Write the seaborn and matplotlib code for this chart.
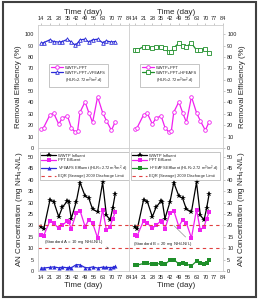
import numpy as np
import pandas as pd
import matplotlib
matplotlib.use("Agg")
import matplotlib.pyplot as plt
import seaborn as sns
from matplotlib.patches import Rectangle

sns.set_style("white")
plt.rcParams['font.family'] = ['Liberation Sans', 'DejaVu Sans']
plt.rcParams['mathtext.fontset'] = 'custom'
plt.rcParams['mathtext.rm'] = 'Liberation Sans'
plt.rcParams['mathtext.it'] = 'Liberation Sans:italic'

# removal efficiency (%)
eff_days = [14, 16, 21, 24, 28, 31, 35, 38, 41, 43, 45, 49, 52, 55, 59, 63, 66, 70, 73]
eff_ppt = [16.5, 18, 29, 30.5, 21, 26.5, 28, 18, 14, 14.5, 31.5, 40.5, 31, 22.5, 45, 31, 24, 15.5, 23]
eff_vf = [92, 92.5, 95, 93.5, 93, 93.5, 95.5, 93, 90.5, 92, 95, 95.5, 93, 95, 95.5, 92.5, 94, 93, 93.5]
eff_hf = [86, 86, 89, 89, 87.5, 89, 89, 87.5, 84, 84.5, 88, 92, 90, 89, 92, 86, 86, 87, 83]

# AN concentration (mg NH4-N/L)
conc_days = [14, 16, 21, 24, 28, 31, 35, 36, 38, 42, 45, 49, 52, 55, 59, 63, 66, 69, 71, 73]
conc_inf = [19.3, 18.3, 31.1, 30.5, 23.8, 28, 30.8, 30.1, 23, 30.4, 38.8, 32.9, 31.9, 27.1, 26, 38.9, 24.5, 22.4, 27.5, 33.8]
conc_ppt = [16, 15.5, 22, 21, 18.7, 20.2, 22, 21.5, 18.5, 25.5, 26.5, 19.5, 22.5, 21, 14.5, 27, 18, 19.5, 23, 25.8]
conc_vf = [1.3, 1.3, 1.6, 1.8, 1.4, 1.7, 1.4, 1.6, 1.4, 2.8, 2.7, 1.5, 1.4, 1.8, 1.3, 1.7, 1.6, 1.5, 1.6, 2.0]
conc_hf = [2.7, 2.6, 3.3, 3.3, 3.0, 3.1, 3.3, 3.2, 2.9, 4.8, 5.0, 3.1, 3.5, 3.0, 2.3, 4.3, 3.3, 3.2, 3.6, 4.9]

std_a = 10
std_b = 20
x_ticks = [14, 21, 28, 35, 42, 49, 56, 63, 70, 77, 84]

MAG = '#f020f0'
BLUE = '#2a2ad8'
GREEN = '#1f8f2a'
RED = '#e04040'

W, H = 259, 299
fig = plt.figure(figsize=(W / 100, H / 100), dpi=100)


def add_ax(x0, y_top, w, h):
    return fig.add_axes([x0 / W, 1 - (y_top + h) / H, w / W, h / H])


ax_tl = add_ax(38, 25, 91, 123)
ax_tr = add_ax(129, 25, 94, 123)
ax_bl = add_ax(38, 148, 91, 123)
ax_br = add_ax(129, 148, 94, 123)


def style(ax, right, top):
    ax.set_xlim(9.5 if right else 11.5, 84)
    ax.set_xticks(x_ticks)
    for s in ax.spines.values():
        s.set_color('#cccccc')
        s.set_linewidth(0.6)
    ax.tick_params(labelsize=4, length=1.5, width=0.4, color='#999999', pad=1.5, labelcolor='#222222')
    if top:
        ax.xaxis.tick_top()
        ax.xaxis.set_label_position('top')
    if right:
        ax.yaxis.tick_right()
        ax.yaxis.set_label_position('right')
    ax.set_xlabel('Time (day)', fontsize=5.8, labelpad=1.5)


def leg(ax, hl, **kw):
    lg = ax.legend(fontsize=2.9, frameon=True, fancybox=False, handlelength=hl,
                   borderpad=0.45, labelspacing=0.2, handletextpad=0.5, **kw)
    lg.get_frame().set_edgecolor('#999999')
    lg.get_frame().set_linewidth(0.5)
    return lg


# top panels: removal efficiency
for ax, right, vals, col, mk, name in [
        (ax_tl, False, eff_vf, BLUE, '^', 'WWTP+PPT+VFEAFS'),
        (ax_tr, True, eff_hf, GREEN, 's', 'WWTP+PPT+HFEAFS')]:
    sns.lineplot(x=eff_days, y=eff_ppt, ax=ax, color=MAG, marker='o', markersize=2.6,
                 markerfacecolor='white', markeredgecolor=MAG, markeredgewidth=0.6,
                 lw=0.9, label='WWTP+PPT')
    sns.lineplot(x=eff_days, y=vals, ax=ax, color=col, marker=mk, markersize=2.6,
                 markerfacecolor='white', markeredgecolor=col, markeredgewidth=0.6,
                 lw=0.9, label=name)
    ax.plot([], [], ls='none', label='(HLR=2.72 m$^3$/m$^2$.d)')
    ax.set_ylim(0, 108)
    ax.set_yticks(range(0, 101, 10))
    style(ax, right, True)
    ax.set_ylabel('Removal Efficiency (%)', fontsize=5.8, labelpad=2)
    leg(ax, 3.0, loc='upper left', bbox_to_anchor=(0.1, 0.70))

# bottom panels: AN concentration
for ax, right, vals, col, mk, name in [
        (ax_bl, False, conc_vf, BLUE, '^', 'VFEAFS'),
        (ax_br, True, conc_hf, GREEN, 's', 'HFEAFS')]:
    sns.lineplot(x=conc_days, y=conc_inf, ax=ax, color='black', marker='*', markersize=3.8,
                 markeredgewidth=0, lw=0.9, label='WWTP Influent')
    sns.lineplot(x=conc_days, y=conc_ppt, ax=ax, color=MAG, marker='s', markersize=2.7,
                 markeredgewidth=0, lw=0.9, label='PPT Effluent')
    sns.lineplot(x=conc_days, y=vals, ax=ax, color=col, marker=mk, markersize=2.9,
                 markeredgewidth=0, lw=0.9,
                 label=name + ' Effluent (HLR=2.72 m$^3$/m$^2$.d)')
    ax.axhline(std_b, color=RED, ls=(0, (3, 3)), lw=0.8,
               label='EQR (Sewage) 2009 Discharge Limit')
    ax.axhline(std_a, color=RED, ls=(0, (3, 3)), lw=0.8)
    ax.set_ylim(0, 54)
    ax.set_yticks(range(0, 51, 5))
    style(ax, right, False)
    ax.set_ylabel('AN Concentration (mg NH$_4$-N/L)', fontsize=5.8, labelpad=2)
    leg(ax, 3.6, loc='upper left', bbox_to_anchor=(-0.005, 0.985))

ax_bl.annotate('(Standard A = 10 mg NH$_4$-N/L)', xy=(68, std_a), xytext=(16.5, 12.8),
               fontsize=3.1, va='center', ha='left',
               arrowprops=dict(arrowstyle='->', color='#555555', lw=0.4, shrinkA=0, shrinkB=0))
ax_br.annotate('(Standard B = 20 mg NH$_4$-N/L)', xy=(45, std_b), xytext=(13, 11.7),
               fontsize=3.1, va='center', ha='left',
               arrowprops=dict(arrowstyle='-', color='#777777', lw=0.4, shrinkA=0, shrinkB=0,
                               relpos=(1, 0.5)))

fig.patches.append(Rectangle((3 / W, 2 / H), 253 / W, 295 / H, transform=fig.transFigure,
                             fill=False, lw=1.5, ec='#404040'))

fig.savefig('out.png', dpi=100)
